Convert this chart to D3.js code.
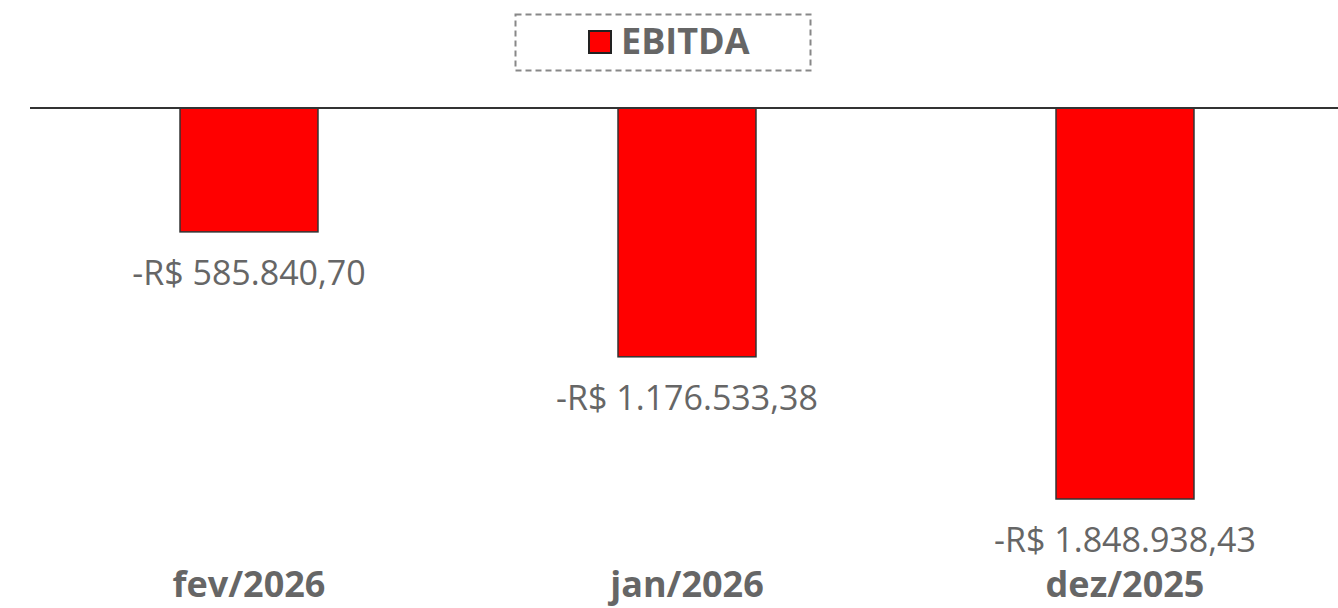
<!DOCTYPE html>
<html><head><meta charset="utf-8">
<script src="https://cdn.jsdelivr.net/npm/d3@7"></script>
<style>html,body{margin:0;padding:0;background:#fff;}svg{display:block;}</style>
</head><body>
<svg id="chart" width="1338" height="608"></svg>
<script>
const categories = ["fev/2026", "jan/2026", "dez/2025"];
const values = [-585840.70, -1176533.38, -1848938.43];
const valueLabels = ["-R$ 585.840,70", "-R$ 1.176.533,38", "-R$ 1.848.938,43"];
const seriesName = "EBITDA";

const svg = d3.select("#chart");
const font = "'Open Sans', 'Noto Sans', sans-serif";
const textColor = "#666666";

const x = d3.scaleBand().domain(categories).range([30, 1344]).paddingInner(0.685).paddingOuter(0.3425);
const y = d3.scaleLinear().domain([0, -1848938.43]).range([108, 499]);

// bars
svg.selectAll("rect.bar").data(values).enter().append("rect")
  .attr("class", "bar")
  .attr("x", (d, i) => x(categories[i]))
  .attr("y", y(0))
  .attr("width", x.bandwidth())
  .attr("height", d => y(d) - y(0))
  .attr("fill", "#ff0000")
  .attr("stroke", "#333")
  .attr("stroke-width", 1.5);

// zero line
svg.append("line").attr("x1", 30).attr("x2", 1338).attr("y1", y(0)).attr("y2", y(0))
  .attr("stroke", "#333").attr("stroke-width", 2);

// value labels
svg.selectAll("text.val").data(values).enter().append("text")
  .attr("class", "val")
  .attr("x", (d, i) => x(categories[i]) + x.bandwidth() / 2)
  .attr("y", d => y(d) + 53)
  .attr("text-anchor", "middle")
  .attr("font-family", font).attr("font-size", 34).attr("fill", textColor)
  .text((d, i) => valueLabels[i]);

// category labels
svg.selectAll("text.cat").data(categories).enter().append("text")
  .attr("class", "cat")
  .attr("x", d => x(d) + x.bandwidth() / 2)
  .attr("y", 597)
  .attr("text-anchor", "middle")
  .attr("font-family", font).attr("font-size", 36).attr("font-weight", "bold").attr("fill", textColor)
  .text(d => d);

// legend
const lg = svg.append("g");
lg.append("rect").attr("x", 515.5).attr("y", 14.5).attr("width", 295).attr("height", 56)
  .attr("fill", "none").attr("stroke", "#888").attr("stroke-width", 2).attr("stroke-dasharray", "6,4");
lg.append("rect").attr("x", 589).attr("y", 31).attr("width", 22).attr("height", 22)
  .attr("fill", "#ff0000").attr("stroke", "#222").attr("stroke-width", 2);
lg.append("text").attr("x", 621).attr("y", 54)
  .attr("font-family", font).attr("font-size", 36).attr("font-weight", "bold").attr("fill", textColor)
  .text(seriesName);
</script>
</body></html>
